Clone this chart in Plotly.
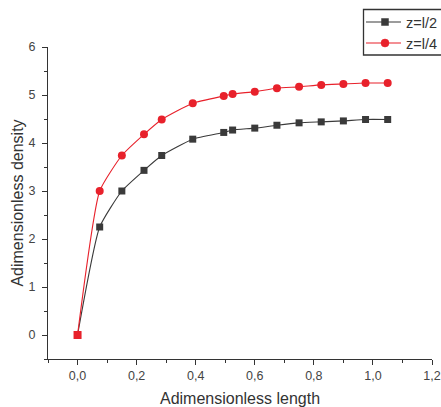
import plotly.graph_objects as go

# Adimensionless length positions
length = [0.0, 0.075, 0.15, 0.225, 0.285, 0.39, 0.495, 0.525, 0.6,
          0.675, 0.75, 0.825, 0.9, 0.975, 1.05]

# Adimensionless density at the two axial positions
density_half = [0.0, 2.25, 3.0, 3.43, 3.74, 4.08, 4.22, 4.27, 4.31,
                4.37, 4.42, 4.44, 4.46, 4.49, 4.49]
density_quarter = [0.0, 3.0, 3.74, 4.18, 4.49, 4.83, 4.98, 5.02, 5.07,
                   5.14, 5.17, 5.21, 5.23, 5.25, 5.25]

series_names = ["z=l/2", "z=l/4"]

x_tickvals = [0.0, 0.2, 0.4, 0.6, 0.8, 1.0, 1.2]
x_ticktext = ["0,0", "0,2", "0,4", "0,6", "0,8", "1,0", "1,2"]
y_tickvals = [0, 1, 2, 3, 4, 5, 6]

BLACK = "#3a3a3a"
RED = "#e8212b"
AXIS = "#333333"
FONT = "Liberation Sans, Arial, sans-serif"

W, H = 441, 407
ML, MR, MT, MB = 48, 9, 47, 48
PW, PH = W - ML - MR, H - MT - MB


def px_x(px):
    return (px - ML) / PW


def px_y(py):
    return 1 - (py - MT) / PH


fig = go.Figure()

fig.add_trace(go.Scatter(
    x=length, y=density_half, name=series_names[0],
    mode="lines+markers", showlegend=False,
    line=dict(color=BLACK, width=1.1, shape="spline", smoothing=0.5),
    marker=dict(symbol="square", size=7, color=BLACK),
))

# the shared origin of this series is drawn as a square
quarter_symbols = ["square"] + ["circle"] * (len(length) - 1)
fig.add_trace(go.Scatter(
    x=length, y=density_quarter, name=series_names[1],
    mode="lines+markers", showlegend=False,
    line=dict(color=RED, width=1.1, shape="spline", smoothing=0.5),
    marker=dict(symbol=quarter_symbols, size=8, color=RED),
))

# key box in the top-right corner, running past the page edge
shapes = [dict(type="rect", xref="paper", yref="paper",
               x0=px_x(363.5), x1=px_x(448), y0=px_y(9.5), y1=px_y(55),
               line=dict(color=AXIS, width=1.3), fillcolor="white", layer="above")]
annotations = []
key_rows = [(22, BLACK, "square", series_names[0]),
            (43, RED, "circle", series_names[1])]
for row_y, color, sym, label in key_rows:
    shapes.append(dict(type="line", xref="paper", yref="paper",
                       x0=px_x(366), x1=px_x(401), y0=px_y(row_y), y1=px_y(row_y),
                       line=dict(color=color, width=1.1), layer="above"))
    half = 3.5 if sym == "square" else 4
    shapes.append(dict(type="rect" if sym == "square" else "circle",
                       xref="paper", yref="paper",
                       x0=px_x(385 - half), x1=px_x(385 + half),
                       y0=px_y(row_y - half), y1=px_y(row_y + half),
                       line=dict(color=color, width=0.5), fillcolor=color,
                       layer="above"))
    annotations.append(dict(xref="paper", yref="paper",
                            x=px_x(404), y=px_y(row_y + 0.5),
                            xanchor="left", yanchor="middle", showarrow=False,
                            text=label, font=dict(size=14.5, color=AXIS,
                                                  family=FONT)))

fig.update_layout(
    width=W, height=H,
    margin=dict(l=ML, r=MR, t=MT, b=MB, autoexpand=False),
    paper_bgcolor="white", plot_bgcolor="white",
    font=dict(family=FONT, color=AXIS, size=12),
    showlegend=False,
    shapes=shapes,
    annotations=annotations,
    xaxis=dict(
        range=[-0.1, 1.2], showgrid=False, zeroline=False, automargin=False,
        showline=True, linecolor=AXIS, linewidth=1.3,
        tickmode="array", tickvals=x_tickvals, ticktext=x_ticktext,
        ticks="outside", ticklen=5, tickwidth=1.2, tickcolor=AXIS,
        minor=dict(dtick=0.1, tick0=0, ticks="outside", ticklen=3,
                   tickwidth=1, tickcolor=AXIS),
        tickfont=dict(size=12.5, color="#444444"),
        title=dict(text="Adimensionless length", font=dict(size=16, color=AXIS),
                   standoff=12),
    ),
    yaxis=dict(
        range=[-0.5, 6], showgrid=False, zeroline=False, automargin=False,
        showline=True, linecolor=AXIS, linewidth=1.3,
        tickmode="array", tickvals=y_tickvals,
        ticks="outside", ticklen=5, tickwidth=1.2, tickcolor=AXIS,
        minor=dict(dtick=0.5, tick0=0, ticks="outside", ticklen=3,
                   tickwidth=1, tickcolor=AXIS),
        tickfont=dict(size=12.5, color="#444444"),
        ticklabelstandoff=4,
        title=dict(text="Adimensionless density", font=dict(size=16, color=AXIS),
                   standoff=0),
    ),
)

fig.write_html("out.html")
